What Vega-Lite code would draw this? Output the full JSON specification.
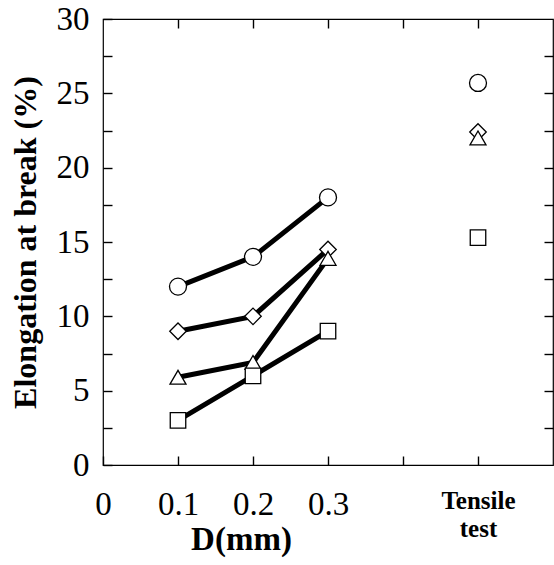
{
  "$schema": "https://vega.github.io/schema/vega-lite/v6.json",
  "width": 450,
  "height": 446,
  "autosize": {"type": "none"},
  "padding": {"left": 103, "top": 19, "right": 1, "bottom": 100},
  "config": {
    "view": {"stroke": "black", "strokeWidth": 1.2},
    "font": "Liberation Serif",
    "axis": {
      "grid": false,
      "domain": false,
      "ticks": true,
      "zindex": 1,
      "tickColor": "black",
      "tickWidth": 1.4,
      "tickSize": 9,
      "offset": -9,
      "labelFont": "Liberation Serif",
      "titleFont": "Liberation Serif",
      "labelColor": "black",
      "titleColor": "black",
      "labelOverlap": false,
      "labelFlush": false,
      "labelBound": false
    }
  },
  "data": {
    "values": [
      {"series": "s1", "kind": "D", "D": 0.1, "elong": 12.0},
      {"series": "s1", "kind": "D", "D": 0.2, "elong": 14.0},
      {"series": "s1", "kind": "D", "D": 0.3, "elong": 18.0},
      {"series": "s1", "kind": "tensile", "D": 0.5, "elong": 25.7},
      {"series": "s2", "kind": "D", "D": 0.1, "elong": 9.0},
      {"series": "s2", "kind": "D", "D": 0.2, "elong": 10.0},
      {"series": "s2", "kind": "D", "D": 0.3, "elong": 14.5},
      {"series": "s2", "kind": "tensile", "D": 0.5, "elong": 22.4},
      {"series": "s3", "kind": "D", "D": 0.1, "elong": 5.9},
      {"series": "s3", "kind": "D", "D": 0.2, "elong": 6.9},
      {"series": "s3", "kind": "D", "D": 0.3, "elong": 13.9},
      {"series": "s3", "kind": "tensile", "D": 0.5, "elong": 22.0},
      {"series": "s4", "kind": "D", "D": 0.1, "elong": 3.0},
      {"series": "s4", "kind": "D", "D": 0.2, "elong": 6.0},
      {"series": "s4", "kind": "D", "D": 0.3, "elong": 9.0},
      {"series": "s4", "kind": "tensile", "D": 0.5, "elong": 15.3}
    ]
  },
  "layer": [
    {
      "transform": [{"filter": "datum.kind == 'D'"}],
      "mark": {"type": "line", "color": "black", "strokeWidth": 5},
      "encoding": {
        "x": {
          "field": "D", "type": "quantitative",
          "scale": {"domain": [0, 0.6], "nice": false, "zero": false},
          "axis": {
            "orient": "bottom",
            "values": [0, 0.1, 0.2, 0.3, 0.4, 0.5],
            "labelExpr": "datum.value == 0.5 ? ['Tensile', 'test'] : (datum.value == 0.4 ? '' : '' + datum.value)",
            "labelFontSize": {"condition": {"test": "datum.value == 0.5", "value": 25}, "value": 33},
            "labelFontWeight": {"condition": {"test": "datum.value == 0.5", "value": "bold"}, "value": "normal"},
            "labelLineHeight": 28,
            "labelPadding": 23,
            "title": "D(mm)",
            "titleFontSize": 33,
            "titleFontWeight": "bold",
            "titleX": 138,
            "titleY": 93,
            "titleBaseline": "alphabetic"
          }
        },
        "y": {
          "field": "elong", "type": "quantitative",
          "scale": {"domain": [0, 30], "nice": false},
          "axis": {
            "orient": "left",
            "values": [0, 2.5, 5, 7.5, 10, 12.5, 15, 17.5, 20, 22.5, 25, 27.5, 30],
            "labelExpr": "datum.value % 5 == 0 ? '' + datum.value : ''",
            "labelFontSize": 33,
            "labelPadding": 14,
            "title": "Elongation at break (%)",
            "titleFontSize": 32,
            "titleFontWeight": "bold",
            "titlePadding": 14
          }
        },
        "detail": {"field": "series"}
      }
    },
    {
      "mark": {"type": "point", "filled": true, "fill": "white", "stroke": "black", "strokeWidth": 1.3, "opacity": 1},
      "encoding": {
        "x": {
          "field": "D", "type": "quantitative",
          "axis": {"orient": "top", "values": [0.1, 0.2, 0.3, 0.4, 0.5], "labels": false, "title": null}
        },
        "y": {
          "field": "elong", "type": "quantitative",
          "axis": {"orient": "right", "values": [2.5, 5, 7.5, 10, 12.5, 15, 17.5, 20, 22.5, 25, 27.5], "labels": false, "title": null}
        },
        "shape": {
          "field": "series", "type": "nominal",
          "scale": {"domain": ["s1", "s2", "s3", "s4"], "range": ["circle", "diamond", "triangle-up", "square"]},
          "legend": null
        },
        "size": {
          "field": "series", "type": "nominal",
          "scale": {"domain": ["s1", "s2", "s3", "s4"], "range": [289, 240, 225, 256]},
          "legend": null
        }
      }
    }
  ],
  "resolve": {"axis": {"x": "independent", "y": "independent"}}
}
